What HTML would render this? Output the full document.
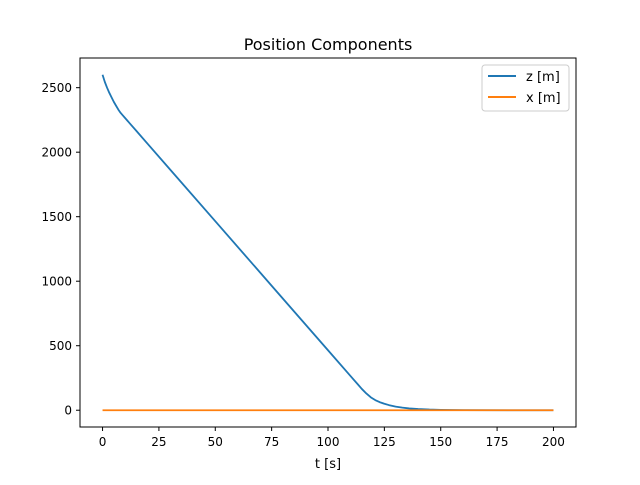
<!DOCTYPE html>
<html><head><meta charset="utf-8"><style>
body{margin:0;background:#fff}
svg{font-family:"DejaVu Sans","Liberation Sans",sans-serif}
</style></head><body>
<svg id="chart" width="640" height="480">
<rect width="640" height="480" fill="#fff"/>
<text x="328" y="50" text-anchor="middle" font-size="16">Position Components</text>
<g id="plot"></g>
<rect x="80" y="58" width="496" height="369" fill="none" stroke="#000" stroke-width="1"/>
<text x="328" y="468" text-anchor="middle" font-size="13">t [s]</text>
<g>
<rect x="482" y="65" width="87" height="46" rx="3" fill="#fff" stroke="#ccc"/>
<line x1="488" y1="76" x2="516" y2="76" stroke="#1f77b4" stroke-width="2"/>
<text x="526" y="81" font-size="13">z [m]</text>
<line x1="488" y1="97" x2="516" y2="97" stroke="#ff7f0e" stroke-width="2"/>
<text x="526" y="102" font-size="13">x [m]</text>
</g>
</svg>
<script>
const tVals=[0,1,2,3,4,5,6,7,8,9,10,12,15,20,30,50,75,100,110,113,115,117,119,121,123,125,127,130,133,136,140,145,150,160,180,200];
const zVals=[2600,2545,2500,2460,2425,2390,2360,2330,2305,2285,2265,2225,2165,2065,1865,1465,965,465,265,205,165,130,100,78,62,50,40,28,20,14,9,5,3,1,0,0];
const xTimes=[0,50,100,150,200];
const xVals=[0,0,0,0,0];
const xTicks=[0,25,50,75,100,125,150,175,200];
const yTicks=[0,500,1000,1500,2000,2500];
const X=t=>80+(t+10)/220*496;
const Y=v=>427-(v+130)/2860*369;
const g=document.getElementById('plot');
const NS='http://www.w3.org/2000/svg';
function mk(tag,attrs){const e=document.createElementNS(NS,tag);for(const k in attrs)e.setAttribute(k,attrs[k]);g.appendChild(e);return e;}
xTicks.forEach(t=>{
 const l=mk('line',{x1:X(t),x2:X(t),y1:427,y2:431,stroke:'#000'});
 
 
 const tx=mk('text',{x:X(t),y:446,'text-anchor':'middle','font-size':12});
 tx.textContent=t;
 
 
});
yTicks.forEach(v=>{
 const l=mk('line',{x1:76,x2:80,y1:Y(v),y2:Y(v),stroke:'#000'});
 
 
 const tx=mk('text',{x:72,y:Y(v)+4.5,'text-anchor':'end','font-size':12});
 tx.textContent=v;
 
 
});
const pz=mk('polyline',{points:tVals.map((t,i)=>X(t)+','+Y(zVals[i])).join(' '),fill:'none',stroke:'#1f77b4','stroke-width':1.8,'stroke-linejoin':'round'});


const px=mk('polyline',{points:xTimes.map((t,i)=>X(t)+','+Y(xVals[i])).join(' '),fill:'none',stroke:'#ff7f0e','stroke-width':1.8});


</script>
</body></html>
